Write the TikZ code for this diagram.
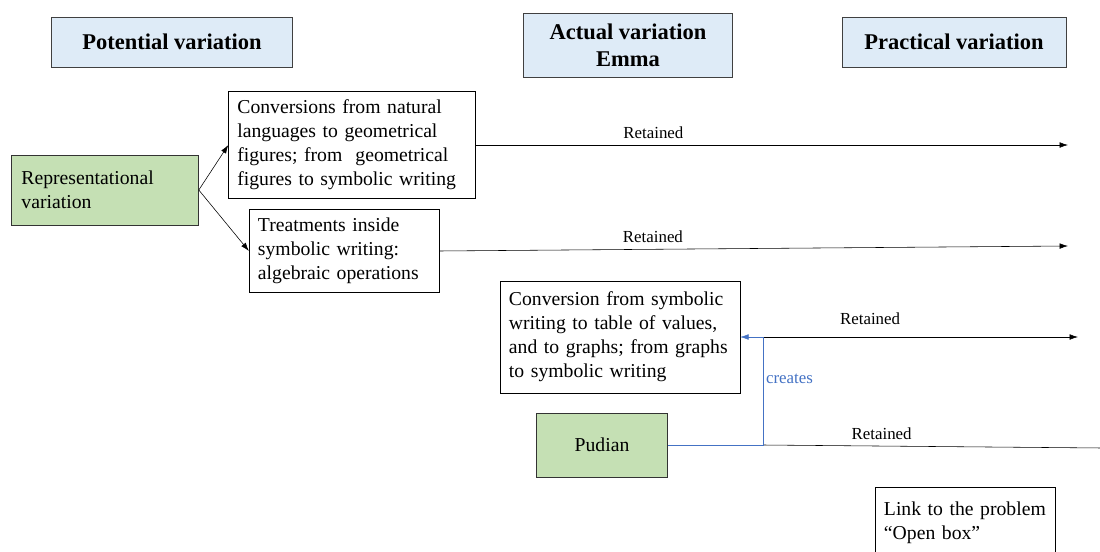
\documentclass[tikz,border=0pt]{standalone}
\usepackage{fontspec}
\setmainfont{Liberation Serif}
\usetikzlibrary{arrows.meta}
\definecolor{hdrblue}{HTML}{DEEBF7}
\definecolor{boxgreen}{HTML}{C5E0B4}
\definecolor{linkblue}{HTML}{4472C4}
\tikzset{
    hdr/.style={draw=black!75, fill=hdrblue, font=\fontsize{16}{19}\selectfont\bfseries, align=center},
    repbox/.style={draw=black!80, fill=boxgreen, font=\fontsize{14}{17}\selectfont},
    txtbox/.style={draw=black, fill=white, font=\fontsize{14}{17}\selectfont, align=left, inner sep=0.22cm},
    keep/.style={-{Latex[length=6pt,width=4pt]}, black},
    retlbl/.style={font=\fontsize{12}{14}\selectfont, above=1.5pt, inner sep=3pt}
}
\begin{document}
\begin{tikzpicture}[x=0.025cm, y=-0.025cm]
                \useasboundingbox (0,0) rectangle (1100,552);
                \node[hdr, minimum width=6.025cm, minimum height=1.25cm] (pot) at (172,42) {Potential variation};
                \node[hdr, minimum width=5.225cm, minimum height=1.6cm] (act) at (628,45) {Actual variation\\Emma};
                \node[hdr, minimum width=5.6cm, minimum height=1.25cm] (prac) at (954,42) {Practical variation};
                \node[repbox, minimum width=4.675cm, minimum height=1.75cm, text width=4.175cm, align=left, inner sep=0.25cm] (rep) at (105,190) {Representational\\variation};
                \node[txtbox, minimum height=2.55cm, text width=5.73cm] (conv) at (352,145) {Conversions from natural\\languages to geometrical\\figures; from\ \ geometrical\\figures to symbolic writing};
                \node[txtbox, minimum height=1.95cm, text width=4.3cm] (treat) at (344,251) {Treatments inside\\symbolic writing:\\algebraic operations};
                \node[txtbox, minimum height=2.8cm, text width=5.55cm] (convsym) at (620,337) {Conversion from symbolic\\writing to table of values,\\and to graphs; from graphs\\to symbolic writing};
                \node[repbox, minimum width=3.275cm, minimum height=1.6cm] (pudian) at (602,445) {Pudian};
                \node[txtbox, minimum height=1.8cm, text width=4.05cm] (link) at (965,523) {Link to the problem\\``Open box''};
                \coordinate (end1) at (1068,145);
                \coordinate (end2) at (1068,246);
                \coordinate (up) at (763,337);
                \coordinate (end3) at (1078,337);
                \coordinate (low) at (763,445);
                \coordinate (end4) at (1102,448);
                \draw[keep] (rep.east) -- (conv.west);
                \draw[keep] (rep.east) -- (treat.west);
                \draw[keep] (conv.east) -- (end1) node[retlbl, pos=0.3] {Retained};
                \draw[keep] (treat.east) -- (end2) node[retlbl, pos=0.34] {Retained};
                \draw[keep] (up) -- (end3) node[retlbl, pos=0.34, above=4pt] {Retained};
                \draw[black] (low) -- (end4) node[retlbl, pos=0.35] {Retained};
                \draw[linkblue, -{Latex[length=6pt,width=4pt]}] (pudian.east) -- (low) -- (up) -- (convsym.east);
                \node[linkblue, font=\fontsize{12}{14}\selectfont, anchor=west, inner sep=2pt] (creates) at (763,379) {creates};
            \end{tikzpicture}
\end{document}
